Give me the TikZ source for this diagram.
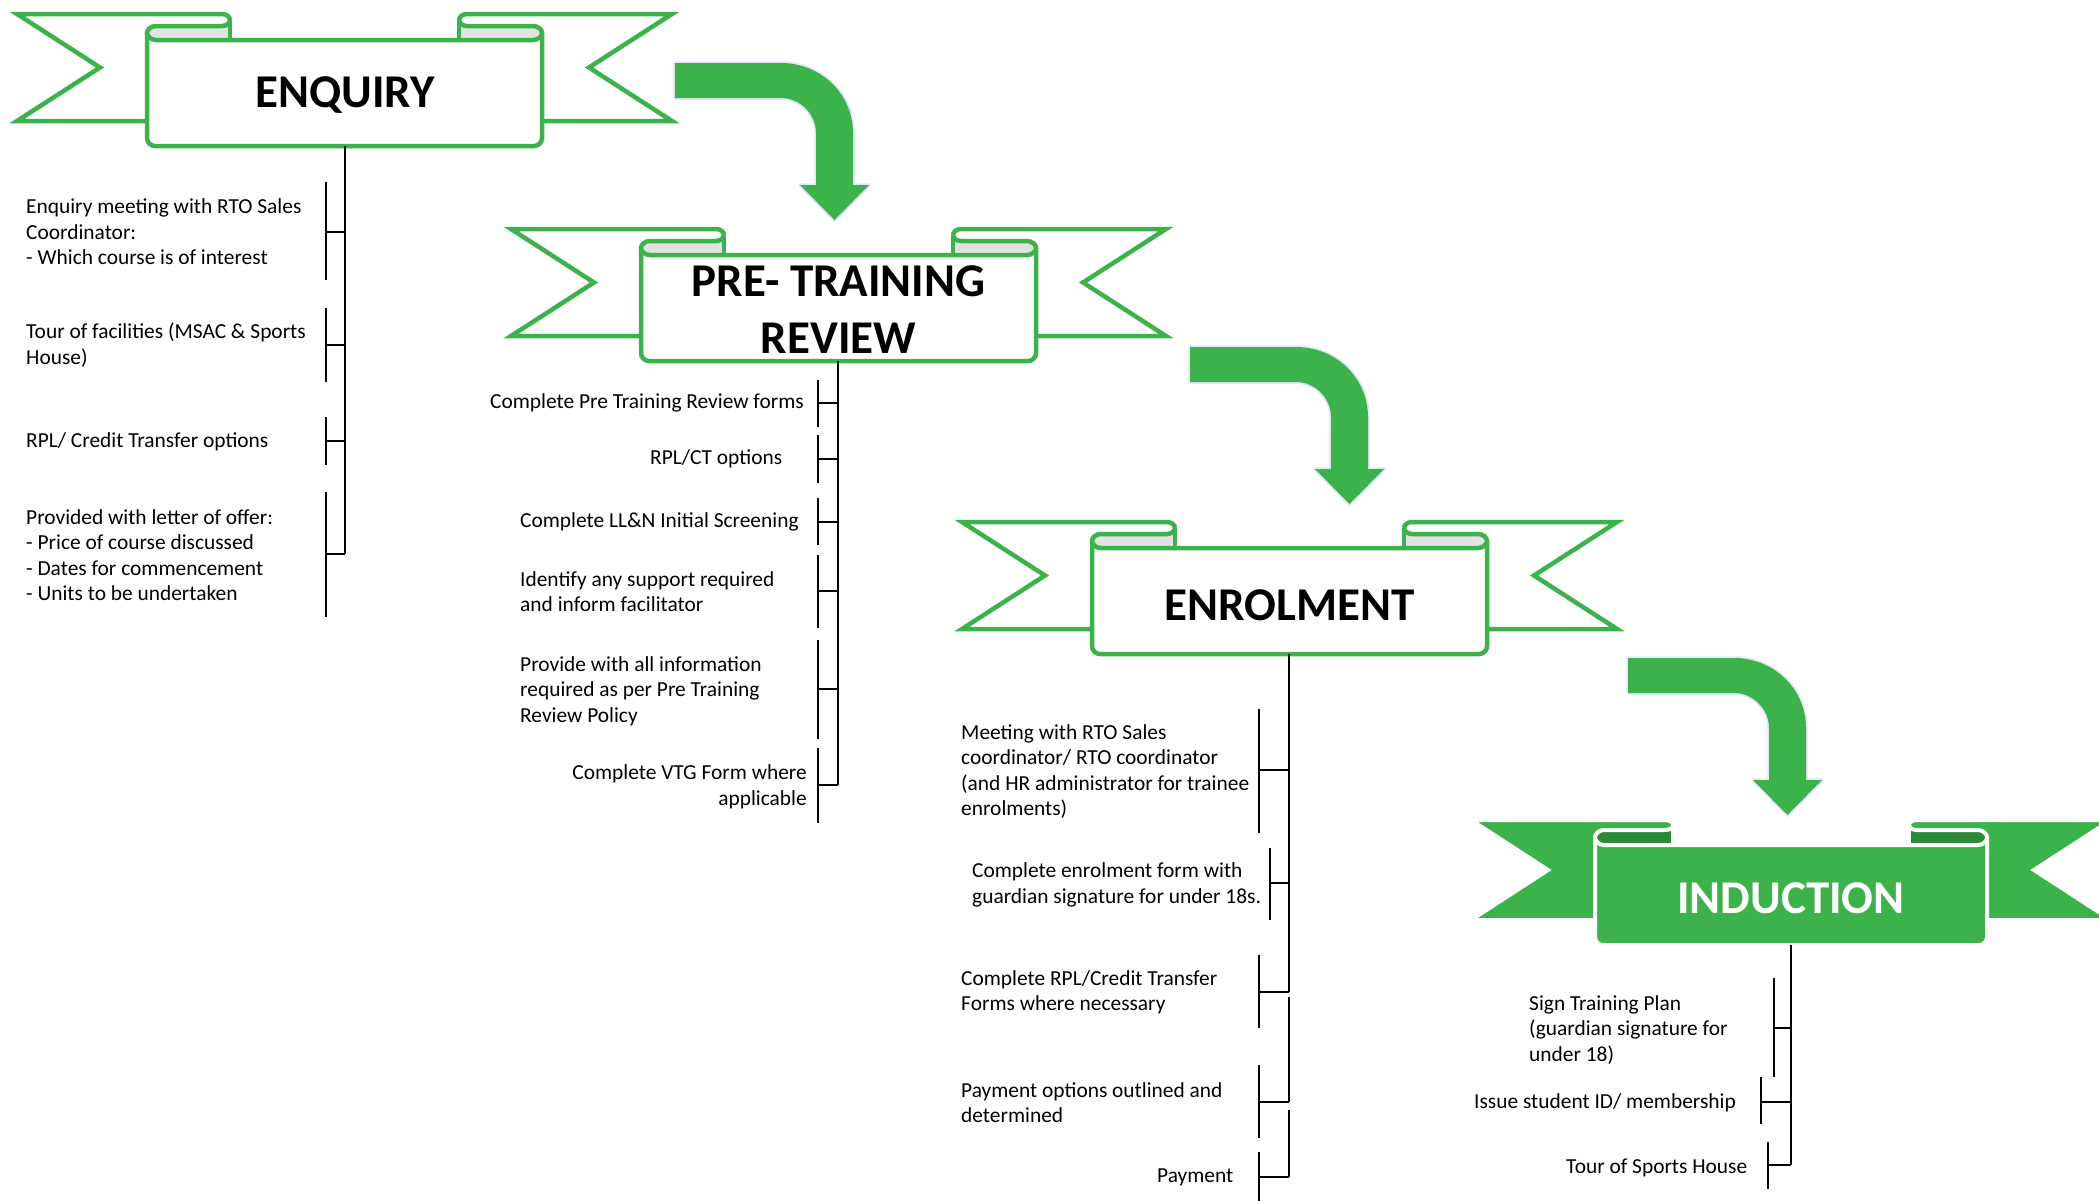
\documentclass[tikz,border=0pt]{standalone}
\usepackage{fontspec}
\setmainfont{Carlito}
\definecolor{rgreen}{RGB}{60,179,74}
\definecolor{rgray}{RGB}{226,226,226}
\definecolor{rdark}{RGB}{44,138,56}
\definecolor{glowc}{RGB}{222,232,246}
\tikzset{
  rbfill/.style={fill=white},
  rbline/.style={draw=rgreen, line width=4.5pt, line join=miter, miter limit=10},
  rblens/.style={fill=rgray},
  bk/.style={draw=black, line width=2.2pt},
  itm/.style={font=\fontsize{21.4}{25.5}\selectfont, align=left, anchor=west, inner sep=0pt},
  ttl/.style={font=\fontsize{47}{57}\selectfont\bfseries, align=center, inner sep=0pt},
  arrowfill/.style={fill=rgreen},
  arrowglow/.style={draw=glowc, line width=3.5pt, line join=round}
}
\newcommand{\DrawRibbon}[9]{%
  \pgfmathsetmacro\rbTipL{#1-#7}%
  \pgfmathsetmacro\rbTipR{#2+#7}%
  \pgfmathsetmacro\rbNL{#1-47}%
  \pgfmathsetmacro\rbNR{#2+47}%
  \pgfmathsetmacro\rbMid{(#3+#4)/2}%
  \pgfmathsetmacro\rbCL{#1+#8}%
  \pgfmathsetmacro\rbCR{#2-#8}%
  \pgfmathsetmacro\rbMa{(#3+#9)/2}%
  \pgfmathsetmacro\rbRm{(#9+#5)/2}%
  % left tail
  \fill[rbfill] (\rbTipL,#3) -- (\rbCL-8,#3) .. controls (\rbCL-3.5,#3) and (\rbCL,\rbMa-3) .. (\rbCL,\rbMa) -- (\rbCL,#5) -- (#1,#5) -- (#1,#4) -- (\rbTipL,#4) -- (\rbNL,\rbMid) -- cycle;
  \draw[rbline] (#1,#4) -- (\rbTipL,#4) -- (\rbNL,\rbMid) -- (\rbTipL,#3) -- (\rbCL-8,#3) .. controls (\rbCL-3.5,#3) and (\rbCL,\rbMa-3) .. (\rbCL,\rbMa);
  % right tail
  \fill[rbfill] (\rbTipR,#3) -- (\rbCR+8,#3) .. controls (\rbCR+3.5,#3) and (\rbCR,\rbMa-3) .. (\rbCR,\rbMa) -- (\rbCR,#5) -- (#2,#5) -- (#2,#4) -- (\rbTipR,#4) -- (\rbNR,\rbMid) -- cycle;
  \draw[rbline] (#2,#4) -- (\rbTipR,#4) -- (\rbNR,\rbMid) -- (\rbTipR,#3) -- (\rbCR+8,#3) .. controls (\rbCR+3.5,#3) and (\rbCR,\rbMa-3) .. (\rbCR,\rbMa);
  % band
  \fill[rbfill] (#1,\rbRm) [rounded corners=8pt] -- (#1,#6) -- (#2,#6) [sharp corners] -- (#2,\rbRm) -- (\rbCR,\rbRm) -- (\rbCR,#5) -- (\rbCL,#5) -- (\rbCL,\rbRm) -- cycle;
  \draw[rbline] (#1,\rbRm) [rounded corners=8pt] -- (#1,#6) -- (#2,#6) -- (#2,\rbRm);
  % roll lenses
  \fill[rblens] (\rbCL,#9) -- (#1+9,#9) .. controls (#1+4,#9) and (#1,\rbRm-3.5) .. (#1,\rbRm) .. controls (#1,\rbRm+3.5) and (#1+4,#5) .. (#1+9,#5) -- (\rbCL,#5) -- cycle;
  \fill[rblens] (\rbCR,#9) -- (#2-9,#9) .. controls (#2-4,#9) and (#2,\rbRm-3.5) .. (#2,\rbRm) .. controls (#2,\rbRm+3.5) and (#2-4,#5) .. (#2-9,#5) -- (\rbCR,#5) -- cycle;
  % roll outline and band top
  \draw[rbline] (\rbCL,\rbMa) .. controls (\rbCL,\rbMa+3) and (\rbCL-3.5,#9) .. (\rbCL-8,#9) -- (#1+9,#9) .. controls (#1+4,#9) and (#1,\rbRm-3.5) .. (#1,\rbRm) .. controls (#1,\rbRm+3.5) and (#1+4,#5) .. (#1+9,#5) -- (#2-9,#5) .. controls (#2-4,#5) and (#2,\rbRm+3.5) .. (#2,\rbRm) .. controls (#2,\rbRm-3.5) and (#2-4,#9) .. (#2-9,#9) -- (\rbCR+8,#9) .. controls (\rbCR+3.5,#9) and (\rbCR,\rbMa+3) .. (\rbCR,\rbMa);
  \draw[rbline] (\rbCL,\rbMa) -- (\rbCL,#5) (\rbCR,\rbMa) -- (\rbCR,#5);
}
\newcommand{\DrawBendArrow}[2]{%
  \begin{scope}[shift={(#1,#2)}]
    \path[arrowglow] (0,0) -- (106,0) .. controls (146,0) and (178,31) .. (178,70) -- (178,122) -- (194,122) -- (159.5,157) -- (125,122) -- (141,122) -- (141,70) .. controls (141,51) and (125,35) .. (106,35) -- (0,35) -- cycle;
    \path[arrowfill] (0,0) -- (106,0) .. controls (146,0) and (178,31) .. (178,70) -- (178,122) -- (194,122) -- (159.5,157) -- (125,122) -- (141,122) -- (141,70) .. controls (141,51) and (125,35) .. (106,35) -- (0,35) -- cycle;
  \end{scope}
}
\newcommand{\Brk}[6]{% name, bracket x, top, bottom, tick y, spine x
  \coordinate (#1b) at (#2,#5);
  \coordinate (#1s) at (#6,#5);
  \draw[bk] (#2,#3) -- (#2,#4);
  \draw[bk] (#1b) -- (#1s);
}
\begin{document}
\begin{tikzpicture}[x=1pt,y=-1pt]
\useasboundingbox (0,0) rectangle (2099,1200);
\clip (0,0) rectangle (2099,1200);
\fill[white] (0,0) rectangle (2099,1200);

% arrows
\DrawBendArrow{675}{63}
\DrawBendArrow{1190}{347}
\DrawBendArrow{1628}{658}

% ribbons
\DrawRibbon{147}{542}{14}{121}{40}{146}{130}{83}{26}
\DrawRibbon{641}{1036}{229}{336}{255}{361}{130}{83}{241}
\DrawRibbon{1092}{1487}{522}{629}{548}{654}{130}{83}{534}
\begin{scope}[rbfill/.style={fill=rgreen},
  rbline/.style={draw=white, line width=4pt, line join=miter, miter limit=10},
  rblens/.style={fill=rdark}]
\DrawRibbon{1595}{1987}{820}{920}{845}{945}{124}{78}{830}
\end{scope}

% titles
\node[ttl] (enq) at (345,95) {ENQUIRY};
\node[ttl] (ptr) at (838.5,310) {PRE- TRAINING\\REVIEW};
\node[ttl] (enr) at (1289.5,605) {ENROLMENT};
\node[ttl, text=white] (ind) at (1791,898) {INDUCTION};

\coordinate (enqB) at (345,146);
\coordinate (ptrB) at (838,361);
\coordinate (enrB) at (1289,654);
\coordinate (indB) at (1791,945);

% ENQUIRY items
\node[itm] (e1) at (26,232) {Enquiry meeting with RTO Sales\\Coordinator:\\- Which course is of interest};
\node[itm] (e2) at (26,345) {Tour of facilities (MSAC \& Sports\\House)};
\node[itm] (e3) at (26,442) {RPL/ Credit Transfer options};
\node[itm] (e4) at (26,555) {Provided with letter of offer:\\- Price of course discussed\\- Dates for commencement\\- Units to be undertaken};
\Brk{e1}{326}{182}{280}{232}{345}
\Brk{e2}{326}{308}{382}{345}{345}
\Brk{e3}{326}{417}{465}{441}{345}
\Brk{e4}{326}{492}{617}{554}{345}
\draw[bk] (enqB) -- (e4s);

% PRE-TRAINING items
\node[itm] (p1) at (490,403) {Complete Pre Training Review forms};
\node[itm] (p2) at (650,459) {RPL/CT options};
\node[itm] (p3) at (520,522) {Complete LL\&N Initial Screening};
\node[itm] (p4) at (520,591.5) {Identify any support required\\and inform facilitator};
\node[itm] (p5) at (520,691) {Provide with all information\\required as per Pre Training\\Review Policy};
\node[itm, anchor=east, align=right] (p6) at (807,787) {Complete VTG Form where\\applicable};
\Brk{p1}{818}{380}{427}{403}{838}
\Brk{p2}{818}{435}{483}{459}{838}
\Brk{p3}{818}{498}{545}{522}{838}
\Brk{p4}{818}{555}{628}{591}{838}
\Brk{p5}{818}{640}{739}{689}{838}
\Brk{p6}{818}{748}{823}{785}{838}
\draw[bk] (ptrB) -- (p6s);

% ENROLMENT items
\node[itm] (n1) at (961,771.5) {Meeting with RTO Sales\\coordinator/ RTO coordinator\\(and HR administrator for trainee\\enrolments)};
\node[itm] (n2) at (972,885) {Complete enrolment form with\\guardian signature for under 18s.};
\node[itm] (n3) at (961,992.5) {Complete RPL/Credit Transfer\\Forms where necessary};
\node[itm] (n4) at (961,1102.5) {Payment options outlined and\\determined};
\node[itm] (n5) at (1157,1177) {Payment};
\Brk{n1}{1259}{709}{833}{770}{1289}
\Brk{n2}{1270}{848}{920}{883}{1289}
\Brk{n3}{1259}{955}{1028}{992}{1289}
\Brk{n4}{1259}{1065}{1138}{1102}{1289}
\Brk{n5}{1259}{1152}{1205}{1177}{1289}
\coordinate (n4top) at (1289,997);
\coordinate (n5top) at (1289,1110);
\draw[bk] (enrB) -- (n3s);
\draw[bk] (n4top) -- (n4s);
\draw[bk] (n5top) -- (n5s);

% INDUCTION items
\node[itm] (i1) at (1529,1030) {Sign Training Plan\\(guardian signature for\\under 18)};
\node[itm] (i2) at (1474,1103) {Issue student ID/ membership};
\node[itm] (i3) at (1566,1168) {Tour of Sports House};
\Brk{i1}{1774}{978}{1077}{1028}{1791}
\Brk{i2}{1761}{1077}{1124}{1102}{1791}
\Brk{i3}{1768}{1142}{1189}{1165}{1791}
\draw[bk] (indB) -- (i3s);
\end{tikzpicture}
\end{document}
